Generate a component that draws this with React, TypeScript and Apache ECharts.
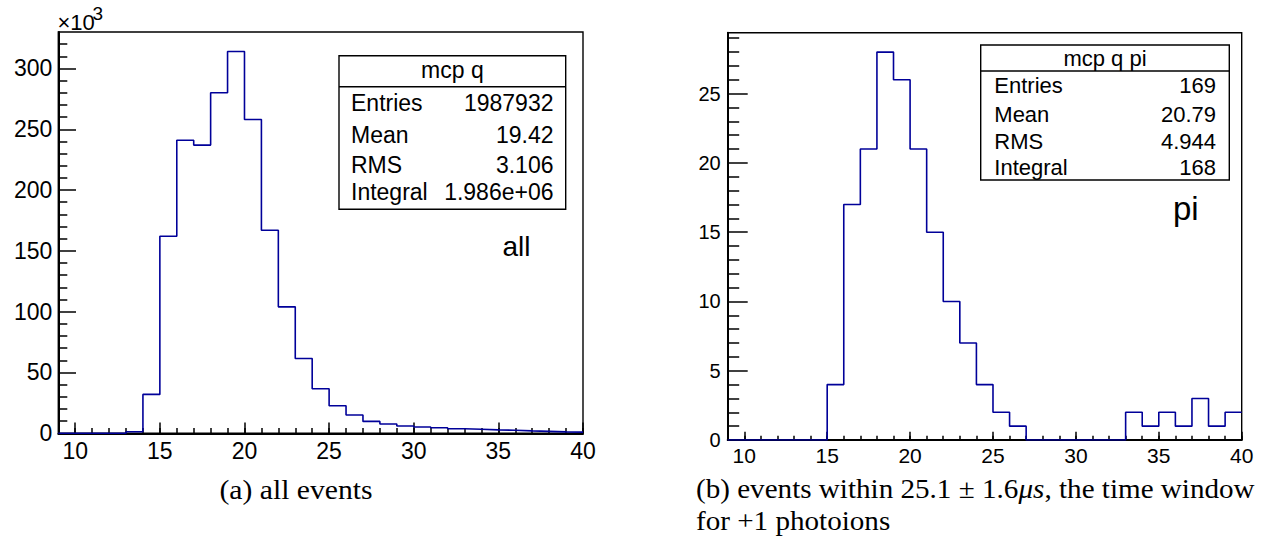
import React, { useEffect, useRef } from "react";
import * as echarts from "echarts";

// Histogram bins (left edges, width 1)
const binStarts = [9, 10, 11, 12, 13, 14, 15, 16, 17, 18, 19, 20, 21, 22, 23, 24, 25, 26, 27, 28, 29, 30, 31, 32, 33, 34, 35, 36, 37, 38, 39];
const binEnd = 40;
// (a) all events, counts in units of 10^3
const allEventsK = [0, 0, 0, 0, 1.3, 32, 162, 241, 237, 280, 314, 258, 167, 104, 61.5, 36.6, 22.7, 15, 9.8, 7.6, 6, 5.2, 4.6, 3.8, 3.3, 2.8, 2.5, 2, 1.6, 1.2, 1.0];
// (b) pi events
const piEvents = [0, 0, 0, 0, 0, 0, 4, 17, 21, 28, 26, 21, 15, 10, 7, 4, 2, 1, 0, 0, 0, 0, 0, 0, 2, 1, 2, 1, 3, 1, 2];

const xMajor = [10, 15, 20, 25, 30, 35, 40];
const xMinor = [9, 10, 11, 12, 13, 14, 15, 16, 17, 18, 19, 20, 21, 22, 23, 24, 25, 26, 27, 28, 29, 30, 31, 32, 33, 34, 35, 36, 37, 38, 39, 40];
const leftYMajor = [0, 50, 100, 150, 200, 250, 300];
const leftYMinor = [10, 20, 30, 40, 60, 70, 80, 90, 110, 120, 130, 140, 160, 170, 180, 190, 210, 220, 230, 240, 260, 270, 280, 290, 310, 320];
const rightYMajor = [0, 5, 10, 15, 20, 25];
const rightYMinor = [1, 2, 3, 4, 6, 7, 8, 9, 11, 12, 13, 14, 16, 17, 18, 19, 21, 22, 23, 24, 26, 27, 28, 29];

const statLabels = ["Entries", "Mean", "RMS", "Integral"];
const allStats = ["1987932", "19.42", "3.106", "1.986e+06"];
const piStats = ["169", "20.79", "4.944", "168"];

const SANS = "'Liberation Sans', Arial, Helvetica, sans-serif";
const SERIF = "'Liberation Serif', 'Times New Roman', serif";
const HIST_COLOR = "#000099";

function histData(values: number[]) {
  const d: number[][] = binStarts.map((x, i) => [x, values[i]]);
  d.push([binEnd, values[values.length - 1]]);
  return d;
}

function xAxes(grid: number, fs: number, majLen: number, minLen: number, margin: number) {
  return [
    {
      type: "value", gridIndex: grid, min: 9, max: 40, position: "bottom",
      axisLine: { show: true, lineStyle: { color: "#000", width: 2 } },
      axisTick: { show: true, inside: true, length: majLen, customValues: xMajor, lineStyle: { color: "#000", width: 1.5 } },
      axisLabel: { show: true, customValues: xMajor, fontSize: fs, color: "#000", fontFamily: SANS, margin },
      splitLine: { show: false },
    },
    {
      type: "value", gridIndex: grid, min: 9, max: 40, position: "bottom",
      axisLine: { show: false },
      axisTick: { show: true, inside: true, length: minLen, customValues: xMinor, lineStyle: { color: "#000", width: 1.5 } },
      axisLabel: { show: false },
      splitLine: { show: false },
    },
  ];
}

function yAxes(grid: number, max: number, major: number[], minor: number[], fs: number, majLen: number, minLen: number, margin: number) {
  return [
    {
      type: "value", gridIndex: grid, min: 0, max, position: "left",
      axisLine: { show: true, lineStyle: { color: "#000", width: 2 } },
      axisTick: { show: true, inside: true, length: majLen, customValues: major, lineStyle: { color: "#000", width: 1.5 } },
      axisLabel: { show: true, customValues: major, fontSize: fs, color: "#000", fontFamily: SANS, margin },
      splitLine: { show: false },
    },
    {
      type: "value", gridIndex: grid, min: 0, max, position: "left",
      axisLine: { show: false },
      axisTick: { show: true, inside: true, length: minLen, customValues: minor, lineStyle: { color: "#000", width: 1.5 } },
      axisLabel: { show: false },
      splitLine: { show: false },
    },
  ];
}

function statsBox(
  x: number, y: number, w: number, h: number, sepY: number, title: string, titleY: number,
  rowsY: number[], labelX: number, valueX: number, values: string[], fs: number
) {
  const els: any[] = [
    { type: "rect", z: 20, shape: { x, y, width: w, height: h }, style: { fill: "#fff", stroke: "#000", lineWidth: 1.4 } },
    { type: "line", z: 21, shape: { x1: x, y1: sepY, x2: x + w, y2: sepY }, style: { stroke: "#000", lineWidth: 1.4 } },
    {
      type: "text", z: 22, x: x + w / 2, y: titleY,
      style: { text: title, fill: "#000", font: `${fs}px ${SANS}`, textAlign: "center", align: "center", textVerticalAlign: "middle", verticalAlign: "middle" },
    },
  ];
  statLabels.forEach((lab, i) => {
    els.push({
      type: "text", z: 22, x: labelX, y: rowsY[i],
      style: { text: lab, fill: "#000", font: `${fs}px ${SANS}`, textAlign: "left", align: "left", textVerticalAlign: "middle", verticalAlign: "middle" },
    });
    els.push({
      type: "text", z: 22, x: valueX, y: rowsY[i],
      style: { text: values[i], fill: "#000", font: `${fs}px ${SANS}`, textAlign: "right", align: "right", textVerticalAlign: "middle", verticalAlign: "middle" },
    });
  });
  return els;
}

export default function App() {
  const ref = useRef<HTMLDivElement>(null);
  useEffect(() => {
    if (!ref.current) return;
    const chart = echarts.init(ref.current, undefined, { renderer: "svg" });
    const graphics: any[] = [
      ...statsBox(339, 55.7, 226.7, 153.6, 86.7, "mcp q", 70, [103, 134.5, 164.5, 191.5], 351, 553.5, allStats, 23),
      ...statsBox(980.7, 45, 248.6, 135, 71, "mcp q pi", 58.5, [85, 114, 141, 167], 994.3, 1216, piStats, 22),
      {
        type: "text", z: 22, x: 502.5, y: 246,
        style: { text: "all", fill: "#000", font: `28px ${SANS}`, textAlign: "left", align: "left", textVerticalAlign: "middle", verticalAlign: "middle" },
      },
      {
        type: "text", z: 22, x: 1173, y: 208,
        style: { text: "pi", fill: "#000", font: `33px ${SANS}`, textAlign: "left", align: "left", textVerticalAlign: "middle", verticalAlign: "middle" },
      },
      {
        type: "text", z: 22, x: 57.5, y: 22,
        style: { text: "×10", fill: "#000", font: `22px ${SANS}`, textAlign: "left", align: "left", textVerticalAlign: "middle", verticalAlign: "middle" },
      },
      {
        type: "text", z: 22, x: 92.5, y: 13.5,
        style: { text: "3", fill: "#000", font: `19px ${SANS}`, textAlign: "left", align: "left", textVerticalAlign: "middle", verticalAlign: "middle" },
      },
      {
        type: "text", z: 22, x: 296, y: 489, scaleX: 1.06,
        style: { text: "(a) all events", fill: "#000", font: `28px ${SERIF}`, textAlign: "center", align: "center", textVerticalAlign: "middle", verticalAlign: "middle" },
      },
      {
        type: "text", z: 22, x: 696, y: 489, scaleX: 1.04,
        style: {
          text: "{r|(b) events within 25.1 ± 1.6}{i|μs}{r|, the time window}",
          fill: "#000", textAlign: "left", align: "left", textVerticalAlign: "middle", verticalAlign: "middle",
          rich: {
            r: { fontSize: 28, fontFamily: SERIF, fill: "#000", color: "#000" },
            i: { fontSize: 28, fontFamily: SERIF, fontStyle: "italic", fill: "#000", color: "#000" },
          },
        },
      },
      {
        type: "text", z: 22, x: 696, y: 521, scaleX: 1.04,
        style: { text: "for +1 photoions", fill: "#000", font: `28px ${SERIF}`, textAlign: "left", align: "left", textVerticalAlign: "middle", verticalAlign: "middle" },
      },
    ];

    const option: any = {
      animation: false,
      backgroundColor: "#fff",
      grid: [
        { left: 58.3, top: 32, width: 524.7, height: 401.3, show: true, borderColor: "#000", borderWidth: 1.4, containLabel: false },
        { left: 727.7, top: 32.7, width: 514, height: 407.3, show: true, borderColor: "#000", borderWidth: 1.4, containLabel: false },
      ],
      xAxis: [
        ...xAxes(0, 23, 10.7, 5.3, 6),
        ...xAxes(1, 21, 8.3, 4.2, 5),
      ],
      yAxis: [
        ...yAxes(0, 330, leftYMajor, leftYMinor, 23, 17.7, 9, 6),
        ...yAxes(1, 29.4, rightYMajor, rightYMinor, 20, 20, 11.5, 7),
      ],
      series: [
        {
          type: "line", xAxisIndex: 0, yAxisIndex: 0, step: "end", symbol: "none",
          data: histData(allEventsK), lineStyle: { color: HIST_COLOR, width: 1.6 }, z: 5,
        },
        {
          type: "line", xAxisIndex: 2, yAxisIndex: 2, step: "end", symbol: "none",
          data: histData(piEvents), lineStyle: { color: HIST_COLOR, width: 1.6 }, z: 5,
        },
      ],
      graphic: graphics,
    };
    chart.setOption(option);
    return () => chart.dispose();
  }, []);
  return <div ref={ref} style={{ position: "absolute", left: 0, top: 0, width: 1268, height: 536 }} />;
}
